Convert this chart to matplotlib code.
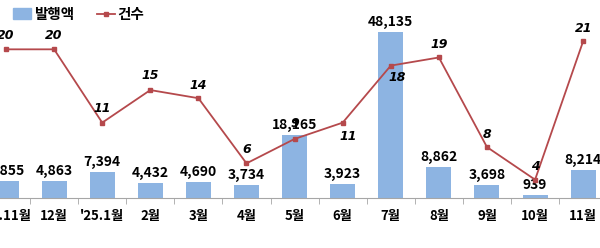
import matplotlib
matplotlib.use('Agg')
import matplotlib.pyplot as plt
from matplotlib.lines import Line2D
from matplotlib.patches import Patch

plt.rcParams['font.family'] = ['Noto Sans CJK KR', 'DejaVu Sans']

# data
months = ["'24.11월", '12월', "'25.1월", '2월', '3월', '4월', '5월', '6월', '7월', '8월', '9월', '10월', '11월']
amount = [4855, 4863, 7394, 4432, 4690, 3734, 18165, 3923, 48135, 8862, 3698, 939, 8214]
count = [20, 20, 11, 15, 14, 6, 9, 11, 18, 19, 8, 4, 21]
# label offsets for the count line (pixels)
count_off = [(0, 14), (0, 14), (0, 14), (0, 15), (0, 13), (0, 14), (0, 15),
             (6, -14), (6, -12), (0, 13), (0, 13), (0, 13), (0, 13)]

bar_color = '#8db4e2'
line_color = '#b5494c'

fig = plt.figure(figsize=(6, 2.48), dpi=100)
ax = fig.add_axes([0, 50 / 248, 1, 178 / 248])
x = list(range(len(months)))

ax.bar(x, amount, width=0.52, color=bar_color, zorder=2)
for i, v in enumerate(amount):
    ax.annotate(f'{v:,}', (i, v), xytext=(0, 3), textcoords='offset pixels',
                ha='center', va='bottom', fontsize=10, fontweight='bold')

for s in ['top', 'left', 'right']:
    ax.spines[s].set_visible(False)
ax.spines['bottom'].set_color('#a6a6a6')
ax.set_yticks([])
ax.set_xticks(x)
ax.set_xticklabels(months, fontsize=9.5, fontweight='bold')
ax.tick_params(axis='x', which='major', length=0, pad=8)
ax.set_xticks([i + 0.5 for i in range(-1, len(months))], minor=True)
ax.tick_params(axis='x', which='minor', length=4, color='#a6a6a6')
ax.set_ylim(0, 51600)
ax.set_xlim(-0.125, 12.35)

ax2 = ax.twinx()
ax2.plot(x, count, color=line_color, lw=1.3, marker='s', markersize=3.5, zorder=3)
ax2.set_ylim(1.75, 23.6)
ax2.axis('off')
for i, v in enumerate(count):
    dx, dy = count_off[i]
    ax2.annotate(str(v), (i, v), xytext=(dx, dy), textcoords='offset pixels',
                 ha='center', va='center', fontsize=9, fontweight='bold', style='italic',
                 family='DejaVu Sans')

handles = [Patch(color=bar_color, label='발행액'),
           Line2D([0], [0], color=line_color, marker='s', markersize=3, lw=1.3, label='건수')]
fig.legend(handles=handles, loc='upper left', bbox_to_anchor=(0.0, 1.03), ncol=2,
           frameon=False, prop={'weight': 'bold', 'size': 10.5},
           handlelength=1.2, handletextpad=0.2, columnspacing=1.6)

fig.savefig('out.png', dpi=100)
